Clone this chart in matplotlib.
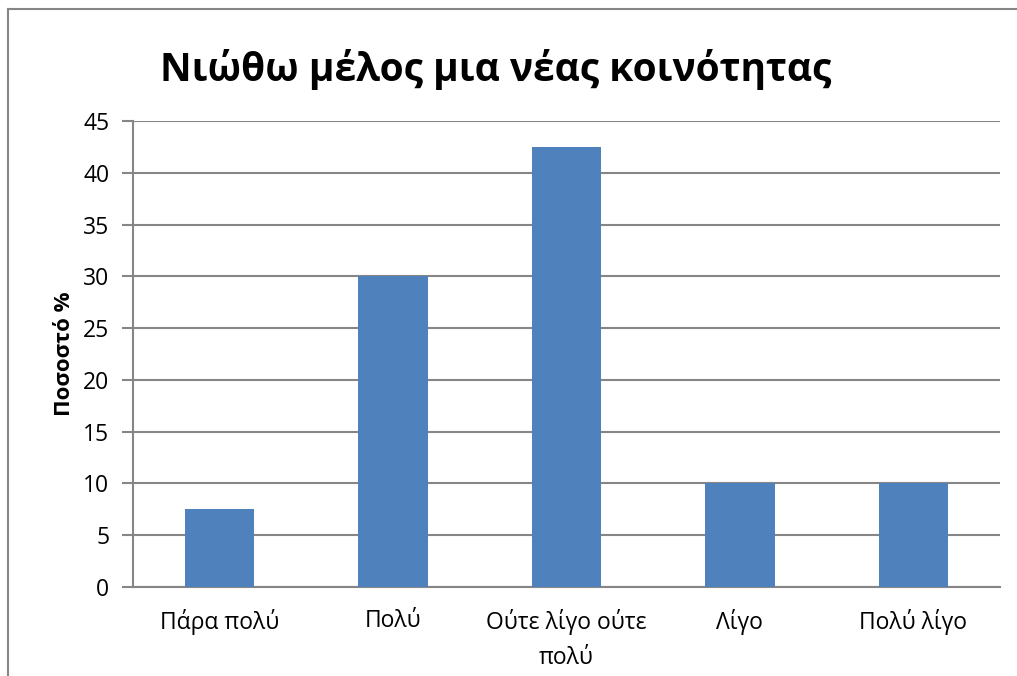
import matplotlib.pyplot as plt

plt.rcParams['font.family'] = ['Open Sans', 'DejaVu Sans']

categories = ["Πάρα πολύ", "Πολύ", "Ούτε λίγο ούτε\nπολύ", "Λίγο", "Πολύ λίγο"]
values = [7.5, 30, 42.5, 10, 10]
yticks = [0, 5, 10, 15, 20, 25, 30, 35, 40, 45]

fig = plt.figure(figsize=(10.17, 6.76), dpi=100)
ax = fig.add_axes([133 / 1017, 1 - 587 / 676, (1000 - 133) / 1017, (587 - 121) / 676])

x = range(len(categories))
ax.bar(x, values, width=0.4, color="#4F81BD", zorder=3)
ax.set_xlim(-0.5, len(categories) - 0.5)
ax.set_ylim(0, 45)
ax.set_yticks(yticks)
ax.set_xticks(list(x))
ax.set_xticklabels(categories, fontsize=16.5, linespacing=1.6)
ax.tick_params(axis="y", labelsize=16.5, length=8, width=1.5, color="#868686", pad=9)
ax.tick_params(axis="x", length=0, pad=16)
ax.grid(axis="y", color="#868686", linewidth=1.5, zorder=0)

for side in ["top", "right"]:
    ax.spines[side].set_visible(False)
for side in ["left", "bottom"]:
    ax.spines[side].set_color("#868686")
    ax.spines[side].set_linewidth(1.5)

ax.set_ylabel("Ποσοστό %", fontsize=16, fontweight="bold", labelpad=6)
fig.text(496 / 1017, 1 - 70 / 676, "Νιώθω μέλος μια νέας κοινότητας",
         fontsize=28, fontweight="bold", ha="center", va="center")

# chart frame (partly cut off in the original)
fig.add_artist(plt.Line2D([8 / 1017, 8 / 1017], [0, 1 - 9 / 676], color="#868686", linewidth=1.5))
fig.add_artist(plt.Line2D([8 / 1017, 1], [1 - 9 / 676, 1 - 9 / 676], color="#868686", linewidth=1.5))

fig.savefig("out.png", dpi=100)
